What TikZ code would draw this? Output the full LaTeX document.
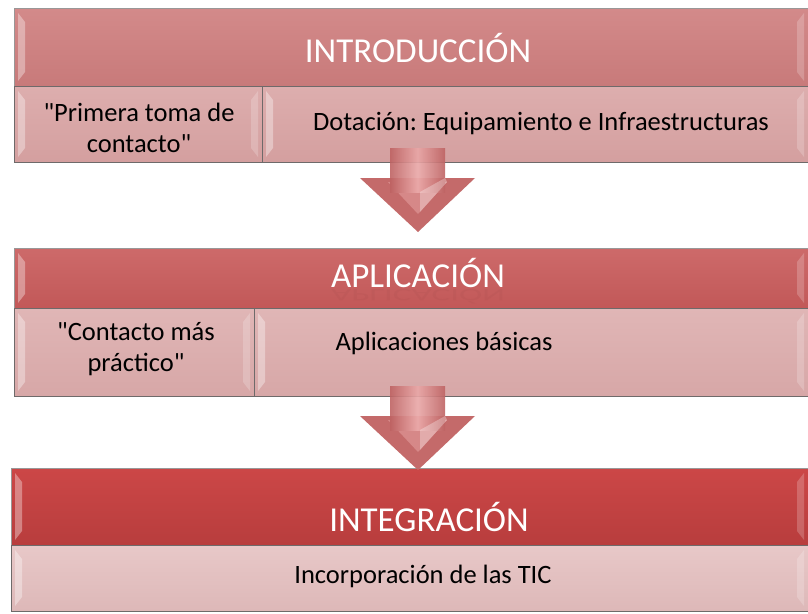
\documentclass[tikz,border=0pt]{standalone}
\usepackage{fontspec}
\setmainfont{Carlito}[Ligatures=TeXOff]
\frenchspacing
\usetikzlibrary{calc}
\definecolor{hA}{HTML}{D38A8A}
\definecolor{hAd}{HTML}{C87A7A}
\definecolor{hB}{HTML}{CD6A6A}
\definecolor{hBd}{HTML}{C25858}
\definecolor{hC}{HTML}{CC4747}
\definecolor{hCd}{HTML}{B83D3D}
\definecolor{rA}{HTML}{DDAEAE}
\definecolor{rAd}{HTML}{D49F9F}
\definecolor{rB}{HTML}{E0B6B6}
\definecolor{rBd}{HTML}{D7A7A7}
\definecolor{rC}{HTML}{E8C8C8}
\definecolor{rCd}{HTML}{DDB8B8}
\definecolor{edge}{HTML}{6E6A6A}
\definecolor{arL}{HTML}{E9A7A7}
\definecolor{arD}{HTML}{BE6363}
\definecolor{arH}{HTML}{C46A6A}
\definecolor{arF}{HTML}{D68888}
\newcommand\mybevel[4]{%
  \fill[white,opacity=0.35] (#1+4,#2+5) -- (#1+11,#2+14) -- (#1+11,#4-14) -- (#1+4,#4-5) -- cycle;
  \fill[white,opacity=0.2] (#3-4,#2+5) -- (#3-11,#2+14) -- (#3-11,#4-14) -- (#3-4,#4-5) -- cycle;}
\begin{document}
\begin{tikzpicture}[x=1pt,y=-1pt,
  box/.style={draw=edge!70, line width=0.8pt, inner sep=0pt, outer sep=0pt, anchor=north west},
  rowbox/.style={draw=edge, line width=1pt, inner sep=0pt, outer sep=0pt, anchor=north west},
  hdrtxt/.style={text=white, font=\fontsize{35}{40}\selectfont, inner sep=0pt},
  bodytxt/.style={text=black, font=\fontsize{26.5}{31}\selectfont, align=center, inner sep=0pt}]
\fill[white] (0,0) rectangle (808,613);
\useasboundingbox (0,0) rectangle (808,613);

% --- Level 1
\node[box, top color=hA, bottom color=hAd, minimum width=794pt, minimum height=78pt] (h1) at (14,8) {};
\node[rowbox, top color=rA, bottom color=rAd, minimum width=248pt, minimum height=76pt] (l1) at (14,86) {};
\node[rowbox, top color=rA, bottom color=rAd, minimum width=546pt, minimum height=76pt] (r1) at (262,86) {};
\mybevel{14}{8}{808}{86}
\mybevel{14}{86}{262}{162}
\mybevel{262}{86}{808}{162}
\node[hdrtxt] (t1) at (418,48) {INTRODUCCIÓN};
\node[bodytxt] (tl1) at (139,128) {"Primera toma de\\contacto"};
\node[bodytxt] (tr1) at (541,124) {Dotación: Equipamiento e Infraestructuras};

% --- Level 2
\node[box, top color=hB, bottom color=hBd, minimum width=794pt, minimum height=60pt] (h2) at (14,248) {};
\node[rowbox, top color=rB, bottom color=rBd, minimum width=240pt, minimum height=88pt] (l2) at (14,308) {};
\node[rowbox, top color=rB, bottom color=rBd, minimum width=554pt, minimum height=88pt] (r2) at (254,308) {};
\mybevel{14}{248}{808}{308}
\mybevel{14}{308}{254}{396}
\mybevel{254}{308}{808}{396}
\node[text=hBd!80!black, opacity=0.12, font=\fontsize{35}{40}\selectfont, yscale=-0.5, inner sep=0pt] (t2r) at (418,297) {APLICACIÓN};
\node[hdrtxt] (t2) at (418,273) {APLICACIÓN};
\node[bodytxt] (tl2) at (136,349) {"Contacto más\\práctico"};
\node[bodytxt] (tr2) at (444,343) {Aplicaciones básicas};

% --- Level 3
\node[box, top color=hC, bottom color=hCd, minimum width=797pt, minimum height=77pt] (h3) at (11,468) {};
\node[rowbox, top color=rC, bottom color=rCd, minimum width=797pt, minimum height=66pt] (r3) at (11,545) {};
\mybevel{11}{468}{808}{545}
\mybevel{11}{545}{808}{611}
\node[hdrtxt] (t3) at (429,517) {INTEGRACIÓN};
\node[bodytxt] (tr3) at (423,576) {Incorporación de las TIC};

% --- Arrows
\coordinate (a1s) at (418,148);
\coordinate (a1t) at (418,232);
\shade[left color=arD, right color=arD, middle color=arL, opacity=0.9]
  ($(a1s)+(-28,0)$) rectangle ($(a1s)+(27,31)$);
\fill[arH] ($(a1t)+(-58,-54)$) -- ($(a1t)+(57,-54)$) -- (a1t) -- cycle;
\fill[arF] ($(a1t)+(-30,-50)$) -- ($(a1t)+(29,-50)$) -- ($(a1t)+(0,-18)$) -- cycle;
\shade[left color=arD, right color=arD, middle color=arL] ($(a1t)+(-28,-54)$) rectangle ($(a1t)+(27,-40)$);
\fill[white,opacity=0.3] ($(a1t)+(2,-40)$) -- ($(a1t)+(27,-54)$) -- ($(a1t)+(29,-50)$) -- ($(a1t)+(2,-20)$) -- cycle;

\coordinate (a2s) at (418,386);
\coordinate (a2t) at (418,470);
\shade[left color=arD, right color=arD, middle color=arL, opacity=0.9]
  ($(a2s)+(-28,0)$) rectangle ($(a2s)+(27,31)$);
\fill[arH] ($(a2t)+(-58,-54)$) -- ($(a2t)+(57,-54)$) -- (a2t) -- cycle;
\fill[arF] ($(a2t)+(-30,-50)$) -- ($(a2t)+(29,-50)$) -- ($(a2t)+(0,-18)$) -- cycle;
\shade[left color=arD, right color=arD, middle color=arL] ($(a2t)+(-28,-54)$) rectangle ($(a2t)+(27,-40)$);
\fill[white,opacity=0.3] ($(a2t)+(2,-40)$) -- ($(a2t)+(27,-54)$) -- ($(a2t)+(29,-50)$) -- ($(a2t)+(2,-20)$) -- cycle;
\end{tikzpicture}
\end{document}
